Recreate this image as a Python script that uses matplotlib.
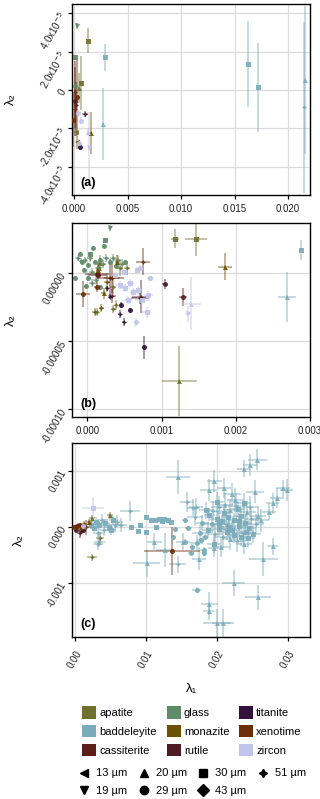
import matplotlib
matplotlib.use('Agg')
import matplotlib.pyplot as plt
from matplotlib.patches import Patch
from matplotlib.lines import Line2D
import numpy as np

plt.rcParams['font.family'] = ['Liberation Sans', 'DejaVu Sans']

minerals = ['apatite', 'baddeleyite', 'cassiterite', 'glass', 'monazite',
            'rutile', 'titanite', 'xenotime', 'zircon']
mineral_colors = ['#6f6f2e', '#79abb9', '#5d1d1b', '#5f8b69', '#6d5102',
                  '#4f1b22', '#30123a', '#6c2d09', '#c1c5eb']
sizes = [13, 19, 20, 29, 30, 43, 51]
size_markers = ['<', 'v', '^', 'o', 's', 'D', (4, 1, 0)]
size_labels = ['13 µm', '19 µm', '20 µm', '29 µm', '30 µm', '43 µm', '51 µm']

# ---- panel (a)
a_min = ['glass', 'apatite', 'glass', 'baddeleyite', 'apatite', 'glass', 'xenotime',
         'xenotime', 'cassiterite', 'xenotime', 'xenotime', 'zircon', 'zircon', 'rutile',
         'baddeleyite', 'apatite', 'zircon', 'zircon', 'monazite', 'monazite', 'zircon',
         'titanite', 'baddeleyite', 'baddeleyite', 'baddeleyite', 'baddeleyite',
         'apatite', 'cassiterite']
a_size = [19, 30, 30, 30, 30, 29, 51,
          29, 51, 51, 29, 29, 29, 51,
          20, 13, 20, 19, 20, 13, 29,
          29, 30, 30, 20, 51,
          20, 29]
a_x = [0.00031, 0.00125, 0.00005, 0.00287, 0.00060, 0.00008, 0.00012,
       0.00031, 0.00020, 0.00012, -0.00006, 0.00037, 0.00063, 0.00100,
       0.00268, 0.00019, 0.00131, 0.00135, 0.00162, 0.00031, 0.00050,
       0.00056, 0.01630, 0.01717, 0.02162, 0.02150,
       0.00045, 0.00008]
a_y = [3.34e-5, 2.57e-5, 1.71e-5, 1.71e-5, 3.5e-6, 2.0e-6, -1.0e-6,
       -3.5e-6, -8.0e-6, -1.0e-5, -1.57e-5, -1.22e-5, -1.6e-5, -1.25e-5,
       -1.77e-5, -2.18e-5, -2.18e-5, -3.05e-5, -2.26e-5, -2.7e-5, -2.78e-5,
       -2.96e-5, 1.36e-5, 1.4e-6, 5.2e-6, -9.0e-6,
       1.0e-6, -6.0e-6]
a_xerr = [0.00003, 0.00003, 0.00002, 0.00004, 0.00003, 0.00002, 0.00004,
          0.00004, 0.00003, 0.00003, 0.00003, 0.00003, 0.00004, 0.00026,
          0.00003, 0.00003, 0.00004, 0.00004, 0.00003, 0.00003, 0.00004,
          0.00003, 0.00005, 0.00005, 0.00005, 0.00005,
          0.00003, 0.00003]
a_yerr = [1.5e-6, 6.5e-6, 1.2e-6, 7.0e-6, 1.4e-5, 1.5e-6, 1.6e-5,
          2.0e-5, 1.2e-5, 1.0e-5, 1.4e-5, 2.0e-6, 2.0e-6, 1.6e-6,
          1.87e-5, 2.0e-6, 2.0e-6, 1.9e-5, 1.1e-5, 4.0e-6, 2.0e-6,
          1.5e-6, 2.26e-5, 2.33e-5, 3.85e-5, 4.46e-5,
          8.0e-6, 1.8e-5]

# ---- panel (b)
b_min = (['glass'] * 31 + ['monazite', 'monazite', 'apatite', 'monazite', 'apatite', 'monazite',
                           'apatite', 'apatite', 'apatite', 'monazite', 'apatite', 'apatite',
                           'apatite', 'monazite', 'apatite', 'apatite', 'monazite', 'apatite']
         + ['xenotime', 'xenotime', 'cassiterite', 'xenotime', 'cassiterite', 'rutile',
            'rutile', 'cassiterite', 'xenotime', 'cassiterite', 'rutile', 'cassiterite']
         + ['titanite'] * 7 + ['zircon'] * 18 + ['baddeleyite'] * 2)
b_size = [19, 30, 29, 29, 29, 51, 51, 29, 51, 29, 51, 29, 51, 29, 51, 29,
          51, 29, 51, 29, 51, 29, 51, 29, 51, 51, 29, 51, 29, 30, 29,
          51, 51, 20, 51, 51, 20, 51, 51, 51, 20, 51, 51, 20, 20, 30, 30, 20, 20,
          51, 29, 29, 51, 51, 51, 29, 29, 29, 51, 51, 29,
          51, 51, 29, 29, 29, 51, 51,
          30, 29, 30, 29, 30, 30, 30, 30, 30, 30, 30, 30, 30, 29, 30, 20, 19, 29,
          30, 20]
b_x = [0.00030, 0.00024, 0.00008, 0.00022, -0.00017, -0.00008, -0.00013, -0.00007,
       -0.00003, 0.00001, 0.00004, -0.00004, 0.00006, 0.00010, 0.00014, 0.00017,
       0.00021, 0.00001, 0.00006, -0.00002, 0.00012, 0.00017, 0.00025, 0.00031,
       0.00035, 0.00041, 0.00038, 0.00047, 0.00051, 0.00003, -0.00010,
       0.00010, 0.00019, 0.00016, 0.00026, 0.00035, 0.00022, 0.00044, 0.00053, 0.00039,
       0.00015, 0.00035, 0.00013, 0.00017, 0.00040, 0.00118, 0.00146, 0.00186, 0.00124,
       0.00075, -0.00006, 0.000135, 0.00033, 0.00033, 0.00072, 0.00104, 0.00129,
       0.00013, 0.00031, 0.00071, 0.00014,
       0.00044, 0.00049, 0.00058, 0.00045, 0.00076, 0.00026, 0.00031,
       0.00067, 0.00084, 0.00080, 0.00066, 0.00044, 0.00051, 0.00058, 0.00062, 0.00068,
       0.00074, 0.00082, 0.00055, 0.00050, 0.00071, 0.00037, 0.00140, 0.00135, 0.00085,
       0.00288, 0.00269]
b_y = [3.30e-5, 2.45e-5, 1.88e-5, 1.98e-5, -3.2e-6, 9.3e-6, 1.12e-5, 8.3e-6,
       9.8e-6, 6.1e-6, 1.12e-5, 2.4e-6, 1.0e-6, 8.3e-6, 3.9e-6, 9.8e-6,
       6.8e-6, -3.5e-6, -7.1e-6, -9.3e-6, -4.9e-6, -1.0e-5, 1.12e-5, 8.3e-6,
       1.12e-5, 9.8e-6, 5.4e-6, 6.8e-6, 8.3e-6, 1.4e-5, 1.4e-5,
       -2.87e-5, -2.57e-5, 4.1e-6, -6.6e-6, -9.8e-6, -1.47e-5, 4.1e-6, 4.1e-6, -2.33e-5,
       2.4e-6, -2.65e-5, -2.82e-5, 7.4e-6, 8.5e-6, 2.54e-5, 2.54e-5, 4.9e-6, -7.89e-5,
       8.5e-6, -1.55e-5, -7e-7, -3.2e-6, -1.67e-5, -1.72e-5, -8.1e-6, -1.72e-5,
       -9.8e-6, -3.7e-6, -1.84e-5, -1.2e-6,
       -3.01e-5, -3.56e-5, -2.72e-5, -2.33e-5, -5.44e-5, -1.10e-5, -1.72e-5,
       2.4e-6, -3.7e-6, -2.87e-5, -3.56e-5, -8.6e-6, -1.08e-5, -7.1e-6, -1.37e-5, -1.23e-5,
       -1.96e-5, -1.60e-5, -1.96e-5, 1.0e-6, 3.9e-6, -1.2e-6, -2.23e-5, -3.01e-5, -3.7e-6,
       1.74e-5, -1.74e-5]
b_xerr = [0.00002, 0.00002, 0.00002, 0.00002, 0.00002, 0.00003, 0.00003, 0.00002,
          0.00003, 0.00002, 0.00004, 0.00002, 0.00004, 0.00002, 0.00004, 0.00002,
          0.00004, 0.00002, 0.00004, 0.00002, 0.00004, 0.00002, 0.00004, 0.00002,
          0.00004, 0.00005, 0.00002, 0.00005, 0.00002, 0.00002, 0.00002,
          0.00003, 0.00003, 0.00004, 0.00004, 0.00004, 0.00003, 0.00004, 0.00004, 0.00003,
          0.00003, 0.00003, 0.00003, 0.00003, 0.00003, 0.000058, 0.000146, 0.000094, 0.000236,
          0.00009, 0.000094, 0.00016, 0.00011, 0.00005, 0.00012, 0.00003, 0.000054,
          0.00004, 0.00018, 0.00012, 0.00013,
          0.00002, 0.00002, 0.00002, 0.00002, 0.00002, 0.00002, 0.00002,
          0.00003, 0.00003, 0.00006, 0.00003, 0.00005, 0.00005, 0.00005, 0.00005, 0.00006,
          0.00010, 0.00006, 0.00005, 0.00004, 0.00003, 0.00004, 0.000135, 0.00003, 0.00003,
          0.000023, 0.000124]
b_yerr = [1.5e-6, 1.5e-6, 1.5e-6, 1.5e-6, 1.5e-6, 2.0e-6, 2.0e-6, 1.5e-6,
          2.5e-6, 1.5e-6, 2.5e-6, 1.5e-6, 3.0e-6, 1.5e-6, 3.0e-6, 1.5e-6,
          3.0e-6, 1.5e-6, 3.0e-6, 1.5e-6, 3.0e-6, 1.5e-6, 3.0e-6, 1.5e-6,
          3.0e-6, 4.0e-6, 1.5e-6, 4.0e-6, 1.5e-6, 1.5e-6, 1.5e-6,
          3.0e-6, 3.0e-6, 6.0e-6, 7.0e-6, 5.7e-6, 4.0e-6, 6.0e-6, 5.0e-6, 4.0e-6,
          5.0e-6, 3.0e-6, 3.0e-6, 6.0e-6, 5.0e-6, 7.0e-6, 1.29e-5, 9.8e-6, 2.57e-5,
          9.8e-6, 9.6e-6, 3.0e-6, 1.1e-5, 5.0e-6, 1.2e-5, 3.7e-6, 6.6e-6,
          4.0e-6, 1.4e-5, 4.0e-6, 3.0e-6,
          3.0e-6, 3.0e-6, 2.0e-6, 2.0e-6, 8.3e-6, 2.0e-6, 2.0e-6,
          2.0e-6, 2.0e-6, 4.0e-6, 3.0e-6, 3.0e-6, 3.0e-6, 3.0e-6, 3.0e-6, 3.0e-6,
          4.0e-6, 3.0e-6, 3.0e-6, 2.0e-6, 2.0e-6, 2.0e-6, 1.96e-5, 6.0e-6, 2.0e-6,
          7.4e-6, 1.87e-5]

# ---- panel (c)
c_min = (['xenotime', 'xenotime', 'cassiterite', 'rutile', 'xenotime', 'titanite',
          'monazite', 'apatite', 'apatite', 'apatite', 'apatite', 'zircon', 'cassiterite',
          'rutile', 'xenotime', 'zircon', 'glass', 'monazite', 'xenotime']
         + ['baddeleyite'] * 127 + ['xenotime'])
c_size = ([29, 51, 29, 51, 51, 29, 20, 20, 20, 51, 51, 30, 29, 29, 29, 29, 29, 51, 29]
          # near origin baddeleyite
          + [30, 30, 51, 30, 30, 51, 51, 20, 30, 51, 30, 30, 30, 51, 51, 51]
          # middle
          + [30, 30, 30, 30, 30, 30, 30, 30, 30, 30, 30, 30, 30, 29, 29, 51, 20, 20, 20, 51, 20]
          # scattered
          + [20, 20, 20, 20, 20, 20, 20, 20, 20, 20, 20, 20, 20, 20, 20, 51, 51, 51,
             20, 20, 20, 20, 29, 20, 20, 20, 20, 20, 29, 29, 20]
          # left of main cluster
          + [29, 29, 29, 29, 29, 29, 29]
          # main cluster
          + [30, 30, 51, 30, 51, 30, 30, 51, 30, 20, 30, 30, 51, 30, 30, 51, 30, 20,
             30, 51, 30, 30, 29, 51, 30, 51, 30, 20, 30, 51, 30, 20, 30, 30, 51, 20,
             30, 51, 30, 20, 30, 30, 30, 51, 20, 29, 29, 51, 29, 30, 51, 30]
          # big xenotime cross
          + [29])
c_x = ([0.0010, 0.00049, 0.00094, 0.00071, 0.0016, 0.00116, 0.0021, 0.0025, 0.0050,
        0.0036, 0.0024, 0.0026, 0.0003, 0.0002, 0.0008, 0.0012, 0.0009, 0.0014, -0.0001]
       + [0.0030, 0.0034, 0.0039, 0.0043, 0.0048, 0.0041, 0.0033, 0.0035, 0.0054, 0.0057,
          0.0027, 0.0023, 0.0052, 0.0060, 0.0033, 0.0066]
       + [0.0079, 0.0090, 0.0092, 0.0100, 0.0101, 0.0108, 0.0113, 0.0115, 0.0119, 0.0123,
          0.0126, 0.0131, 0.0136, 0.0139, 0.0142, 0.0078, 0.01125, 0.0127, 0.0102, 0.0145,
          0.0153]
       + [0.01453, 0.02575, 0.0247, 0.0238, 0.0197, 0.0189, 0.0211, 0.0222, 0.0254, 0.0294,
          0.0299, 0.0285, 0.0279, 0.0274, 0.0263, 0.0158, 0.0171, 0.0167, 0.0279, 0.0266,
          0.0224, 0.0258, 0.0172, 0.0190, 0.0201, 0.0209, 0.0189, 0.0175, 0.0164, 0.0183,
          0.0196]
       + [0.0155, 0.0160, 0.0155, 0.0166, 0.0178, 0.0184, 0.0182]
       + [0.0185, 0.0190, 0.0195, 0.0200, 0.0203, 0.0207, 0.0210, 0.0213, 0.0216, 0.0219,
          0.0222, 0.0225, 0.0228, 0.0231, 0.0234, 0.0237, 0.0240, 0.0243, 0.0246, 0.0249,
          0.0252, 0.0188, 0.0193, 0.0198, 0.0204, 0.0209, 0.0214, 0.0219, 0.0224, 0.0229,
          0.0234, 0.0239, 0.0244, 0.0201, 0.0212, 0.0226, 0.0238, 0.0247, 0.0196, 0.0206,
          0.0217, 0.0232, 0.0242, 0.0255, 0.0258, 0.0180, 0.0176, 0.0170, 0.0172, 0.0230,
          0.0218, 0.0203]
       + [0.01373])
c_y = ([-2.3e-5, 1.8e-5, -5.3e-5, -1.1e-4, -5e-6, -5.3e-5, 9.4e-5, 1.54e-4, 2.1e-4,
        -1.9e-4, -5.4e-4, 3.3e-4, 1e-5, -6e-5, 4e-5, 2e-5, -1e-5, 6e-5, 0.0]
       + [9.4e-5, 3.6e-5, 1.2e-4, 6.6e-5, -5e-6, -5.3e-5, -1.1e-4, -2.6e-4, 1.2e-4, 3.6e-5,
          -2.3e-5, 3.6e-5, -5.3e-5, 9.4e-5, -3.1e-4, 4e-5]
       + [-5e-6, -6.6e-5, 3.6e-5, 1.7e-4, -8.3e-5, 1.2e-4, 1.2e-4, -5e-6, 1.5e-4, 1.1e-4,
          1.5e-4, 1.2e-4, 9.4e-5, -1.7e-4, -3.6e-5, 2.9e-4, -2.6e-4, -4.1e-4, -6.4e-4, -6.6e-4,
          -2.6e-4]
       + [8.9e-4, 1.2e-3, 1.1e-3, 1.04e-3, 8.2e-4, 6.6e-4, 6.9e-4, 5.9e-4, 6.3e-4, 6.9e-4,
          6.6e-4, 5.1e-4, 4.2e-4, 2.7e-4, 1.2e-4, 4.4e-4, 3.6e-4, 3.4e-4, -3.4e-4, -5.7e-4,
          -1.0e-3, -1.25e-3, -1.12e-3, -1.36e-3, -1.71e-3, -1.71e-3, -1.5e-3, -5.6e-4, -4.6e-4,
          -4.7e-4, -3.8e-4]
       + [1.2e-4, -2.3e-5, -2.6e-4, -3.5e-4, -2.3e-4, -1.7e-4, -4.1e-4]
       + [3.0e-4, 2.2e-4, 2.8e-4, 1.5e-4, 3.5e-4, 1.0e-4, 2.5e-4, 5e-5, 1.8e-4, 3.0e-4,
          -5e-5, 1.2e-4, 3.8e-4, 2e-5, 2.0e-4, -1.0e-4, 8e-5, 2.6e-4, -2e-5, 1.5e-4,
          -1.2e-4, -5e-5, 5e-5, -1.2e-4, -3e-5, -1.8e-4, -8e-5, -2.2e-4, -1.5e-4, -2.5e-4,
          -1.8e-4, -3.0e-4, -2.0e-4, 4.5e-4, 4.0e-4, 4.8e-4, 4.2e-4, 3.6e-4, -3.0e-4, -3.5e-4,
          0.0, 1.0e-4, -8e-5, 5e-5, 2.0e-4, 8e-5, -1.0e-4, 1.8e-4, -2.8e-4, 3.2e-4,
          -3.0e-5, 6e-5]
       + [-0.00043])
c_xerr = ([0.0002, 0.0003, 0.0003, 0.0003, 0.0009, 0.0002, 0.0003, 0.0004, 0.0004,
           0.0006, 0.0007, 0.0015, 0.0002, 0.0002, 0.0002, 0.0003, 0.0002, 0.0003, 0.0002]
          + [0.0006, 0.0005, 0.0008, 0.0006, 0.0006, 0.0007, 0.0007, 0.0008, 0.0006, 0.0008,
             0.0005, 0.0005, 0.0006, 0.0008, 0.0007, 0.0008]
          + [0.0002, 0.0002, 0.0002, 0.0002, 0.0002, 0.0002, 0.0002, 0.0002, 0.0002, 0.0002,
             0.0002, 0.0002, 0.0002, 0.0002, 0.0002, 0.00135, 0.0011, 0.0013, 0.0019, 0.0012,
             0.0010]
          + [0.0017, 0.0013, 0.0010, 0.0009, 0.0011, 0.0012, 0.0010, 0.0012, 0.0013, 0.0010,
             0.0009, 0.0010, 0.0009, 0.0010, 0.0011, 0.0010, 0.0010, 0.0009, 0.0008, 0.0020,
             0.0016, 0.0018, 0.0006, 0.0012, 0.0020, 0.0015, 0.0008, 0.0010, 0.0004, 0.0004,
             0.0008]
          + [0.0004, 0.0005, 0.0004, 0.0004, 0.0005, 0.0004, 0.0005]
          + [0.0010, 0.0008, 0.0012, 0.0009, 0.0011, 0.0008, 0.0010, 0.0012, 0.0009, 0.0010,
             0.0011, 0.0009, 0.0012, 0.0010, 0.0009, 0.0011, 0.0010, 0.0012, 0.0009, 0.0011,
             0.0010, 0.0009, 0.0010, 0.0011, 0.0009, 0.0012, 0.0010, 0.0011, 0.0009, 0.0012,
             0.0010, 0.0011, 0.0010, 0.0010, 0.0011, 0.0012, 0.0010, 0.0011, 0.0010, 0.0011,
             0.0010, 0.0010, 0.0011, 0.0012, 0.0011, 0.0009, 0.0010, 0.0011, 0.0009, 0.0010,
             0.0011, 0.0009]
          + [0.0040])
c_yerr = ([4e-5, 6e-5, 5e-5, 8e-5, 1.3e-4, 4e-5, 5e-5, 6e-5, 6e-5,
           1.0e-4, 6e-5, 2.1e-4, 3e-5, 3e-5, 4e-5, 4e-5, 3e-5, 5e-5, 3e-5]
          + [8e-5, 7e-5, 1.2e-4, 8e-5, 8e-5, 1.0e-4, 1.0e-4, 1.0e-4, 8e-5, 1.2e-4,
             7e-5, 7e-5, 8e-5, 1.2e-4, 1.0e-4, 1.2e-4]
          + [2e-5, 2e-5, 2e-5, 2e-5, 2e-5, 2e-5, 2e-5, 2e-5, 2e-5, 2e-5,
             2e-5, 2e-5, 2e-5, 3e-5, 3e-5, 1.8e-4, 1.5e-4, 3.0e-4, 2.4e-4, 1.5e-4,
             1.5e-4]
          + [3.0e-4, 1.8e-4, 2.0e-4, 1.5e-4, 2.0e-4, 2.0e-4, 1.8e-4, 2.0e-4, 2.0e-4, 1.5e-4,
             2.0e-4, 1.8e-4, 1.8e-4, 1.5e-4, 2.0e-4, 1.8e-4, 1.5e-4, 1.5e-4, 1.5e-4, 3.0e-4,
             2.3e-4, 2.2e-4, 5e-5, 2.0e-4, 2.5e-4, 2.5e-4, 1.5e-4, 2.0e-4, 4e-5, 4e-5,
             1.5e-4]
          + [4e-5, 4e-5, 4e-5, 5e-5, 4e-5, 4e-5, 5e-5]
          + [1.5e-4, 1.2e-4, 1.8e-4, 1.4e-4, 2.0e-4, 1.2e-4, 1.6e-4, 1.8e-4, 1.4e-4, 2.0e-4,
             1.5e-4, 1.3e-4, 2.2e-4, 1.6e-4, 1.4e-4, 1.8e-4, 1.5e-4, 2.0e-4, 1.4e-4, 1.7e-4,
             1.6e-4, 1.4e-4, 1.5e-4, 1.7e-4, 1.3e-4, 1.9e-4, 1.5e-4, 1.8e-4, 1.4e-4, 2.0e-4,
             1.6e-4, 1.8e-4, 1.5e-4, 1.8e-4, 2.0e-4, 2.2e-4, 1.8e-4, 1.9e-4, 1.6e-4, 1.8e-4,
             1.5e-4, 1.5e-4, 1.6e-4, 1.8e-4, 1.7e-4, 1.3e-4, 1.4e-4, 1.6e-4, 1.3e-4, 1.5e-4,
             1.6e-4, 1.4e-4]
          + [0.00043])


def draw_panel(ax, mins, szs, xs, ys, xes, yes):
    mins = np.array(mins)
    szs = np.array(szs)
    xs, ys, xes, yes = map(np.array, (xs, ys, xes, yes))
    # error bars first, then points on top
    for m, col in zip(minerals, mineral_colors):
        sel = mins == m
        if sel.any():
            ax.errorbar(xs[sel], ys[sel], xerr=xes[sel], yerr=yes[sel], fmt='none',
                        ecolor=col, elinewidth=1.1, alpha=0.55, capsize=0, zorder=2)
    for m, col in zip(minerals, mineral_colors):
        for s, mk in zip(sizes, size_markers):
            sel = (mins == m) & (szs == s)
            if sel.any():
                ax.plot(xs[sel], ys[sel], linestyle='none', marker=mk, color=col,
                        ms=3.6, mew=0, alpha=0.9, zorder=3)


def style_axis(ax):
    ax.grid(True, color='#dcdcdc', linewidth=0.9, zorder=0)
    ax.set_axisbelow(True)
    for sp in ax.spines.values():
        sp.set_linewidth(1.0)
        sp.set_color('black')
    ax.tick_params(direction='out', length=3, width=0.9, labelsize=7,
                   color='black', labelcolor='#222222')


fig = plt.figure(figsize=(3.2, 7.99), dpi=100)
ax_a = fig.add_axes([0.225, 0.756, 0.744, 0.239])
ax_b = fig.add_axes([0.225, 0.4785, 0.744, 0.242])
ax_c = fig.add_axes([0.225, 0.2031, 0.744, 0.242])

for ax in (ax_a, ax_b, ax_c):
    style_axis(ax)

draw_panel(ax_a, a_min, a_size, a_x, a_y, a_xerr, a_yerr)
draw_panel(ax_b, b_min, b_size, b_x, b_y, b_xerr, b_yerr)
draw_panel(ax_c, c_min, c_size, c_x, c_y, c_xerr, c_yerr)

ax_a.set_xlim(-0.0002, 0.02206)
ax_a.set_ylim(-5.48e-5, 4.49e-5)
ax_a.set_xticks([0, 0.005, 0.010, 0.015, 0.020])
ax_a.set_xticklabels(['0.000', '0.005', '0.010', '0.015', '0.020'])
ax_a.set_yticks([-4e-5, -2e-5, 0, 2e-5, 4e-5])
ax_a.set_yticklabels([r'-4.0x10$^{-5}$', r'-2.0x10$^{-5}$', '0',
                      r'2.0x10$^{-5}$', r'4.0x10$^{-5}$'])

ax_b.set_xlim(-0.000206, 0.003)
ax_b.set_ylim(-1.054e-4, 3.68e-5)
ax_b.set_xticks([0, 0.001, 0.002, 0.003])
ax_b.set_xticklabels(['0.000', '0.001', '0.002', '0.003'])
ax_b.set_yticks([-1e-4, -5e-5, 0])
ax_b.set_yticklabels(['-0.00010', '-0.00005', '0.00000'])

ax_c.set_xlim(-0.00036, 0.03317)
ax_c.set_ylim(-0.00195, 0.001487)
ax_c.set_xticks([0, 0.01, 0.02, 0.03])
ax_c.set_xticklabels(['0.00', '0.01', '0.02', '0.03'], rotation=60, ha='center', va='top')
ax_c.set_yticks([-0.001, 0, 0.001])
ax_c.set_yticklabels(['-0.001', '0.000', '0.001'])
ax_c.tick_params(axis='x', pad=6)

for ax in (ax_a, ax_b, ax_c):
    for lab in ax.get_yticklabels():
        lab.set_rotation(60)
        lab.set_rotation_mode('anchor')
        lab.set_ha('right')
        lab.set_va('center')
    ax.tick_params(axis='y', pad=3)

for ax, lx, tag in ((ax_a, -0.231, '(a)'), (ax_b, -0.231, '(b)'), (ax_c, -0.197, '(c)')):
    ax.set_ylabel('λ₂', fontsize=9.5)
    ax.yaxis.set_label_coords(lx, 0.5)
    ax.text(0.034, 0.065, tag, transform=ax.transAxes, fontsize=9, fontweight='bold',
            ha='left', va='center')

ax_c.set_xlabel('λ₁', fontsize=9.5)
ax_c.xaxis.set_label_coords(0.5, -0.239)

# mineral legend, one legend per column so the columns sit where the reference has them
fill_cols_x = [0.2563, 0.5209, 0.7469]
for k, x0 in enumerate(fill_cols_x):
    names = minerals[3 * k:3 * k + 3]
    cols = mineral_colors[3 * k:3 * k + 3]
    fig.legend([Patch(facecolor=c, edgecolor='none') for c in cols], names,
               loc='upper left', bbox_to_anchor=(x0, 0.1158), frameon=False, fontsize=8,
               handlelength=1.3, handleheight=1.3, handletextpad=0.25,
               labelspacing=0.59, borderpad=0, borderaxespad=0)

# grain size legend, 4 columns
shape_cols_x = [0.245, 0.4325, 0.618, 0.8056]
for k, x0 in enumerate(shape_cols_x):
    idx = [i for i in (2 * k, 2 * k + 1) if i < len(sizes)]
    fig.legend([Line2D([], [], marker=size_markers[i], color='black', linestyle='none',
                       markersize=6) for i in idx],
               [size_labels[i] for i in idx],
               loc='upper left', bbox_to_anchor=(x0, 0.0382), frameon=False, fontsize=8,
               handlelength=1.0, handletextpad=0.55, labelspacing=0.64,
               borderpad=0, borderaxespad=0)

fig.savefig('out.png', dpi=100)
